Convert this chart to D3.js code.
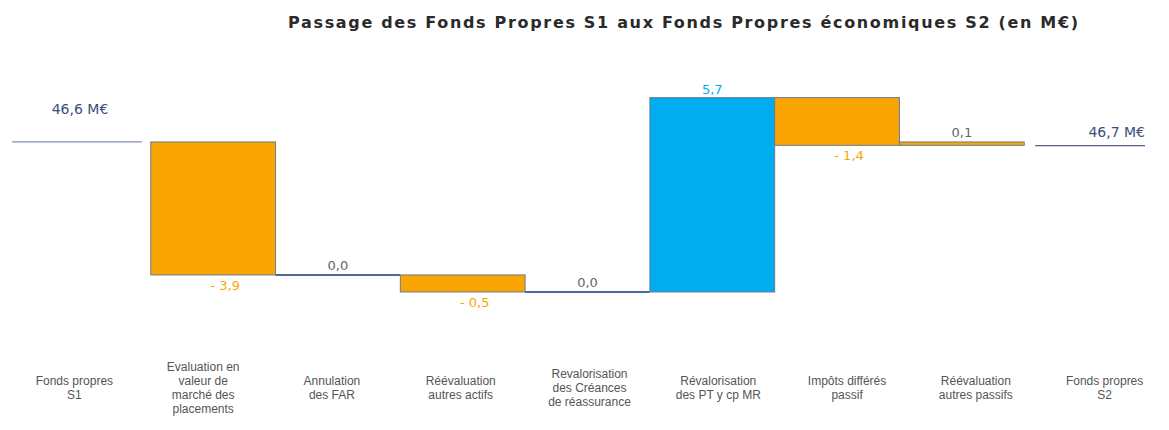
<!DOCTYPE html>
<html>
<head>
<meta charset="utf-8">
<script src="https://cdn.jsdelivr.net/npm/d3@7"></script>
<style>
  body { margin: 0; background: #fff; }
</style>
</head>
<body>
<div id="chart"></div>
<script>
// data
var categories = ["Fonds propres S1", "Evaluation en valeur de marché des placements", "Annulation des FAR",
  "Réévaluation autres actifs", "Revalorisation des Créances de réassurance", "Révalorisation des PT y cp MR",
  "Impôts différés passif", "Réévaluation autres passifs", "Fonds propres S2"];
var labelLines = [["Fonds propres", "S1"], ["Evaluation en", "valeur de", "marché des", "placements"],
  ["Annulation", "des FAR"], ["Réévaluation", "autres actifs"], ["Revalorisation", "des Créances", "de réassurance"],
  ["Révalorisation", "des PT y cp MR"], ["Impôts différés", "passif"], ["Réévaluation", "autres passifs"],
  ["Fonds propres", "S2"]];
var startValue = 46.6;
var endValue = 46.7;
var deltas = [-3.9, 0.0, -0.5, 0.0, 5.7, -1.4, 0.1];
var deltaLabels = ["- 3,9", "0,0", "- 0,5", "0,0", "5,7", "- 1,4", "0,1"];

var W = 1169, H = 430;
var orange = "#F9A602", blue = "#00AEEF", navy = "#3E4C7E", outline = "#6A7A98";

var svg = d3.select("#chart").append("svg")
    .attr("width", W).attr("height", H)
    .style("font-family", "'Liberation Sans', Arial, sans-serif");

// title
svg.append("text")
    .attr("x", 288).attr("y", 28)
    .attr("textLength", 790).attr("lengthAdjust", "spacing")
    .style("font-family", "'DejaVu Sans', Verdana, sans-serif")
    .style("font-weight", "bold").style("font-size", "16px")
    .attr("fill", "#2a2a2a")
    .text("Passage des Fonds Propres S1 aux Fonds Propres économiques S2 (en M€)");

// scales
var x = d3.scaleBand().domain(d3.range(categories.length)).range([26, 1149]).padding(0);
var xl = d3.scaleBand().domain(d3.range(categories.length)).range([10, 1169]).padding(0);
var y = d3.scaleLinear().domain([40, 50]).range([367, 26]);

// running totals
var steps = [];
var run = startValue;
deltas.forEach(function(d, i) {
  steps.push({i: i + 1, from: run, to: run + d, d: d, label: deltaLabels[i]});
  run = run + d;
});

var valFont = "'DejaVu Sans', Verdana, sans-serif";

// start / end lines
var bw = x.bandwidth();
svg.append("line")
    .attr("x1", x(0) - 14).attr("x2", x(0) + bw - 9)
    .attr("y1", y(startValue)).attr("y2", y(startValue))
    .attr("stroke", "#7F8FB8").attr("stroke-width", 1.3);
svg.append("text")
    .attr("x", x(0) + 54).attr("y", y(startValue) - 28)
    .attr("text-anchor", "middle").style("font-family", valFont).style("font-size", "14px").attr("fill", navy)
    .text("46,6 M€");

var endY = y(endValue) + 7;
svg.append("line")
    .attr("x1", x(8) + 11).attr("x2", x(8) + bw - 4)
    .attr("y1", endY).attr("y2", endY)
    .attr("stroke", "#55618F").attr("stroke-width", 1.2);
svg.append("text")
    .attr("x", x(8) + bw - 4).attr("y", endY - 9)
    .attr("text-anchor", "end").style("font-family", valFont).style("font-size", "14px").attr("fill", navy)
    .text("46,7 M€");

// bars
steps.forEach(function(s) {
  var top = y(Math.max(s.from, s.to)), bot = y(Math.min(s.from, s.to));
  if (s.d === 0) {
    svg.append("line")
        .attr("x1", x(s.i)).attr("x2", x(s.i) + bw)
        .attr("y1", y(s.to)).attr("y2", y(s.to))
        .attr("stroke", "#4F6A98").attr("stroke-width", 2);
  } else {
    svg.append("rect")
        .attr("x", x(s.i)).attr("y", top)
        .attr("width", bw).attr("height", Math.max(bot - top, 3))
        .attr("fill", s.d > 1 ? blue : orange)
        .attr("stroke", outline).attr("stroke-width", 1);
  }
  var lx = x(s.i) + bw / 2, ly, col;
  if (s.d < 0) { ly = bot + 15; col = orange; lx += 12; }
  else if (s.d > 1) { ly = top - 4; col = blue; }
  else { ly = top - 5; col = "#666"; }
  svg.append("text")
      .attr("x", lx).attr("y", ly)
      .attr("text-anchor", "middle").style("font-family", valFont).style("font-size", "13px").attr("fill", col)
      .text(s.label);
});

// category labels
labelLines.forEach(function(lines, i) {
  var lh = 14;
  var y0 = 392 - (lines.length - 1) * lh / 2;
  var t = svg.append("text")
      .attr("x", xl(i) + xl.bandwidth() / 2)
      .attr("text-anchor", "middle").style("font-size", "12px").attr("fill", "#555");
  lines.forEach(function(l, k) {
    t.append("tspan").attr("x", xl(i) + xl.bandwidth() / 2).attr("y", y0 + k * lh).text(l);
  });
});
</script>
</body>
</html>
